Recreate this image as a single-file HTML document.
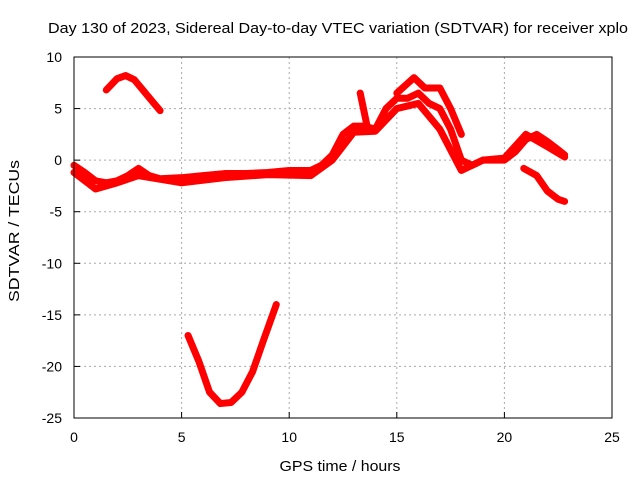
<!DOCTYPE html>
<html><head><meta charset="utf-8"><style>
body{margin:0;background:#fff}
svg{display:block;font-family:"Liberation Sans",sans-serif}
</style></head><body>
<svg id="chart" width="640" height="480">
<rect width="640" height="480" fill="#fff"/>
<text x="338" y="33" text-anchor="middle" font-size="15" textLength="580" lengthAdjust="spacingAndGlyphs">Day 130 of 2023, Sidereal Day-to-day VTEC variation (SDTVAR) for receiver xplo</text>
<text x="340" y="471" text-anchor="middle" font-size="15" textLength="121" lengthAdjust="spacingAndGlyphs">GPS time / hours</text>
<text transform="translate(19,231) rotate(-90)" text-anchor="middle" font-size="15" textLength="142" lengthAdjust="spacingAndGlyphs">SDTVAR / TECUs</text>
<g id="grid"></g><g id="series"></g>
<rect x="74" y="57" width="538" height="361" fill="none" stroke="#000" stroke-width="1"/>
</svg>
<script>
const xTicks=[0,5,10,15,20,25];
const yTicks=[10,5,0,-5,-10,-15,-20,-25];
const arcTime=[1.5,2.0,2.4,2.8,3.2,3.6,4.0];
const arcVal=[6.8,7.9,8.2,7.8,6.8,5.8,4.8];
const uTime=[5.3,5.8,6.3,6.8,7.3,7.8,8.3,8.8,9.4];
const uVal=[-17,-19.5,-22.5,-23.6,-23.5,-22.5,-20.5,-17.5,-14];
const band1Time=[0,0.5,1,1.5,2,2.5,3,3.5,4,5,6,7,8,9,10,11,11.5,12,12.5,13,13.5,14,14.5,15,15.5,16,16.5,17,17.5,18,18.5,19,19.5,20,20.5,21,21.5,22,22.5,22.8];
const band1Val=[-0.5,-1.2,-2.0,-2.2,-2.0,-1.5,-0.8,-1.5,-1.8,-1.7,-1.5,-1.3,-1.3,-1.2,-1.0,-1.0,-0.5,0.5,2.5,3.3,3.3,3.0,5,6,6,6.5,5.5,5,3,0,-0.5,0,0,0,0.8,2,2.5,1.8,1,0.5];
const band2Time=[0,1,2,3,5,7,9,11,12,13,14,15,16,17,18,19,20,21,22,22.8];
const band2Val=[-1.2,-2.8,-2.2,-1.5,-2.2,-1.7,-1.4,-1.5,0,2.7,2.8,5,5.5,3,-1,0,0.2,2.5,1.3,0.3];
const band3Time=[15,15.8,16.3,17,17.5,18];
const band3Val=[6.5,8,7,7,5,2.5];
const spikeTime=[13.3,13.6];
const spikeVal=[6.5,3.5];
const tailTime=[20.9,21.5,22,22.5,22.8];
const tailVal=[-0.8,-1.5,-3,-3.8,-4];
const X=t=>74+t*(538/25);
const Y=v=>57+(10-v)*(361/35);
const NS="http://www.w3.org/2000/svg";
const grid=document.getElementById('grid'),ser=document.getElementById('series'),svg=document.getElementById('chart');
function mk(tag,attrs,parent){const e=document.createElementNS(NS,tag);for(const k in attrs)e.setAttribute(k,attrs[k]);parent.appendChild(e);return e;}
xTicks.forEach(t=>{
 if(t>0&&t<25){const l=mk('line',{x1:X(t),x2:X(t),y1:57,y2:418,stroke:'#aaa','stroke-dasharray':'2,3'},grid);
 
 }
 const tk=mk('line',{x1:X(t),x2:X(t),y1:418,y2:412,stroke:'#000'},grid);
 
 
 const tx=mk('text',{x:X(t),y:442,'text-anchor':'middle','font-size':14},svg);tx.textContent=t;
 
 
});
yTicks.forEach(v=>{
 if(v<10&&v>-25){const l=mk('line',{x1:74,x2:612,y1:Y(v),y2:Y(v),stroke:'#aaa','stroke-dasharray':'2,3'},grid);
 
 }
 const tk=mk('line',{x1:74,x2:80,y1:Y(v),y2:Y(v),stroke:'#000'},grid);
 
 
 const tx=mk('text',{x:62,y:Y(v)+5,'text-anchor':'end','font-size':14},svg);tx.textContent=v;
 
 
});
function draw(ts,vs,name){
 const p=mk('polyline',{points:ts.map((t,i)=>X(t)+','+Y(vs[i])).join(' '),fill:'none',stroke:'#f00','stroke-width':7,'stroke-linejoin':'round','stroke-linecap':'round'},ser);
 
 
}
draw(arcTime,arcVal,'series-arc');
draw(uTime,uVal,'series-u-curve');
draw(band1Time,band1Val,'series-band-1');
draw(band2Time,band2Val,'series-band-2');
draw(band3Time,band3Val,'series-band-3');
draw(spikeTime,spikeVal,'series-spike');
draw(tailTime,tailVal,'series-tail');
</script>
</body></html>
